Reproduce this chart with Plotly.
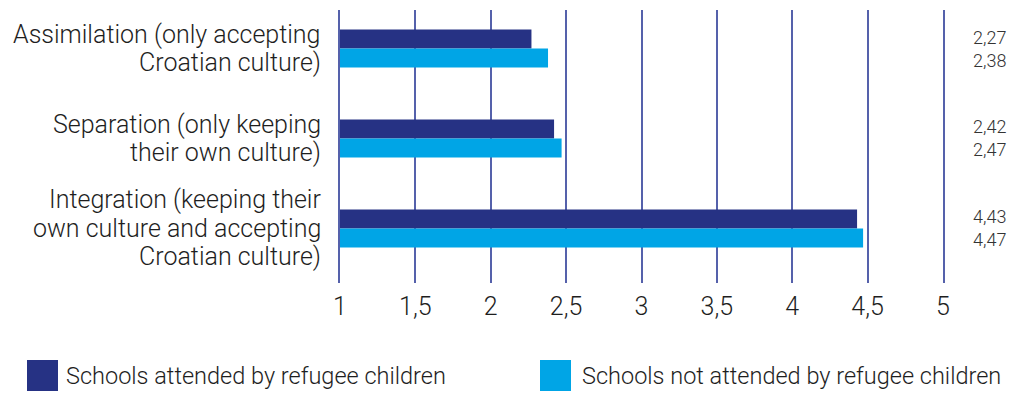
import plotly.graph_objects as go

# ---- data ----
categories = ["Assimilation", "Separation", "Integration"]
category_lines = [
    ["Assimilation (only accepting", "Croatian culture)"],
    ["Separation (only keeping", "their own culture)"],
    ["Integration (keeping their", "own culture and accepting", "Croatian culture)"],
]
series_names = ["Schools attended by refugee children",
                "Schools not attended by refugee children"]
attended = [2.27, 2.42, 4.43]
not_attended = [2.38, 2.47, 4.47]
x_tickvals = [1, 1.5, 2, 2.5, 3, 3.5, 4, 4.5, 5]
x_ticktext = ["1", "1,5", "2", "2,5", "3", "3,5", "4", "4,5", "5"]

# ---- style ----
W, H = 1013, 398
ML, MR, MT, MB = 340, 70, 10, 115
PW, PH = W - ML - MR, H - MT - MB
DARK = "#263284"
LIGHT = "#00a5e6"
GRID = "#5561ab"
FONT = "Roboto, Liberation Sans, Arial, sans-serif"
WEIGHT = 300
TXT = "#1e1e1e"


def px_x(p):
    return (p - ML) / PW


def px_y(p):
    return (H - MB - p) / PH


def fmt(v):
    return f"{v:.2f}".replace(".", ",")


fig = go.Figure()
fig.add_trace(go.Bar(y=categories, x=attended, orientation="h",
                     marker=dict(color=DARK, line=dict(width=0)),
                     name=series_names[0], showlegend=False))
fig.add_trace(go.Bar(y=categories, x=not_attended, orientation="h",
                     marker=dict(color=LIGHT, line=dict(width=0)),
                     name=series_names[1], showlegend=False))

annotations = []
line_gap = 28.5
for cat, lines in zip(categories, category_lines):
    n = len(lines)
    for i, ln in enumerate(lines):
        annotations.append(dict(
            x=px_x(323), xref="paper", y=cat, yref="y",
            xanchor="right", yanchor="middle", showarrow=False,
            text=ln, font=dict(family=FONT, size=25, color=TXT, weight=WEIGHT),
            yshift=-(i - (n - 1) / 2) * line_gap))

for cat, a, b in zip(categories, attended, not_attended):
    for v, sh in ((a, 11.5), (b, -11.5)):
        annotations.append(dict(
            x=px_x(1008), xref="paper", y=cat, yref="y",
            xanchor="right", yanchor="middle", showarrow=False,
            text=fmt(v), font=dict(family=FONT, size=18, color="#333333",
                                   weight=WEIGHT),
            yshift=sh))

# legend (manual)
shapes = []
for name, col, sx, tx in ((series_names[0], DARK, 27, 64),
                          (series_names[1], LIGHT, 540, 580)):
    shapes.append(dict(type="rect", xref="paper", yref="paper",
                       x0=px_x(sx), x1=px_x(sx + 31),
                       y0=px_y(391), y1=px_y(360),
                       fillcolor=col, line=dict(width=0)))
    annotations.append(dict(
        x=px_x(tx), xref="paper", y=px_y(376), yref="paper",
        xanchor="left", yanchor="middle", showarrow=False,
        text=name, font=dict(family=FONT, size=23.5, color=TXT, weight=WEIGHT)))

fig.update_layout(
    width=W, height=H,
    margin=dict(l=ML, r=MR, t=MT, b=MB, pad=0),
    paper_bgcolor="white", plot_bgcolor="white",
    barmode="group", bargap=0.578, bargroupgap=0,
    showlegend=False,
    annotations=annotations, shapes=shapes,
    xaxis=dict(range=[1, 5], tickvals=x_tickvals, ticktext=x_ticktext,
               showgrid=True, gridcolor=GRID, gridwidth=1.5,
               zeroline=False, showline=False, ticks="",
               ticklabelstandoff=6,
               tickfont=dict(family=FONT, size=25, color=TXT, weight=WEIGHT)),
    yaxis=dict(type="category", categoryorder="array",
               categoryarray=categories,
               range=[2.606, -0.428], showgrid=False, zeroline=False,
               showline=True, mirror=True, linecolor=GRID, linewidth=1.5,
               showticklabels=False, ticks=""),
)

fig.write_html("out.html")
